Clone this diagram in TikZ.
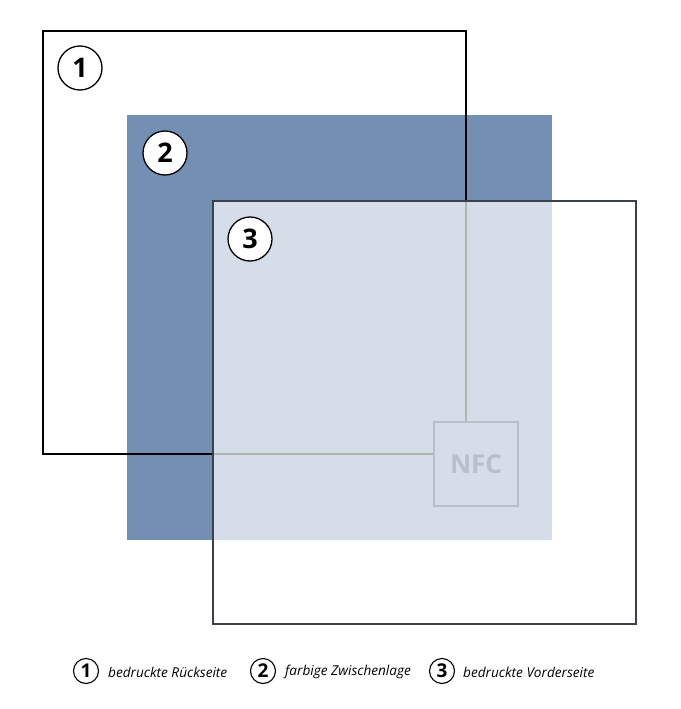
\documentclass[tikz,border=0pt]{standalone}
\usepackage{fontspec}
\setmainfont{Open Sans}
\definecolor{layerblue}{HTML}{738FB4}
\definecolor{overlay}{HTML}{D5DDE8}
\definecolor{frame3}{HTML}{3C4048}
\definecolor{nfcgray}{HTML}{B8BFCB}
\tikzset{
  numcircle/.style={circle, draw=black, line width=1.3pt, fill=white, minimum size=44pt, inner sep=0pt, font=\fontsize{27}{27}\selectfont\bfseries},
  legcircle/.style={circle, draw=black, line width=1.1pt, fill=white, minimum size=25pt, inner sep=0pt, font=\fontsize{19}{19}\selectfont\bfseries},
  legtext/.style={anchor=west, inner sep=0pt, font=\fontsize{13.6}{13.6}\selectfont\itshape},
}
\begin{document}
\begin{tikzpicture}[x=1pt,y=-1pt]
\useasboundingbox (0,0) rectangle (680,709);
% layer 2: coloured middle layer
\fill[layerblue] (127,115) rectangle (552,540);
% layer 1: printed back side
\draw[black, line width=1.8pt] (43,31) rectangle (466,454);
% layer 3: printed front side (translucent)
\fill[white, opacity=0.7] (213,201) rectangle (636,624);
\draw[frame3, line width=1.8pt] (213,201) rectangle (636,624);
% NFC chip
\node[draw=nfcgray, fill=overlay, line width=1.2pt, minimum size=84pt, inner sep=0pt,
      text=nfcgray, font=\fontsize{26}{26}\selectfont\bfseries] (nfc) at (476,464) {NFC};
% number circles
\node[numcircle] (c1) at (80,68) {1};
\node[numcircle] (c2) at (165,153) {2};
\node[numcircle] (c3) at (250,239) {3};
% legend
\node[legcircle] (l1) at (86,671) {1};
\node[legtext] (t1) at (108,672) {bedruckte Rückseite};
\node[legcircle] (l2) at (263,671) {2};
\node[legtext] (t2) at (285,672) {farbige Zwischenlage};
\node[legcircle] (l3) at (442,671) {3};
\node[legtext] (t3) at (463,672) {bedruckte Vorderseite};
\end{tikzpicture}
\end{document}
